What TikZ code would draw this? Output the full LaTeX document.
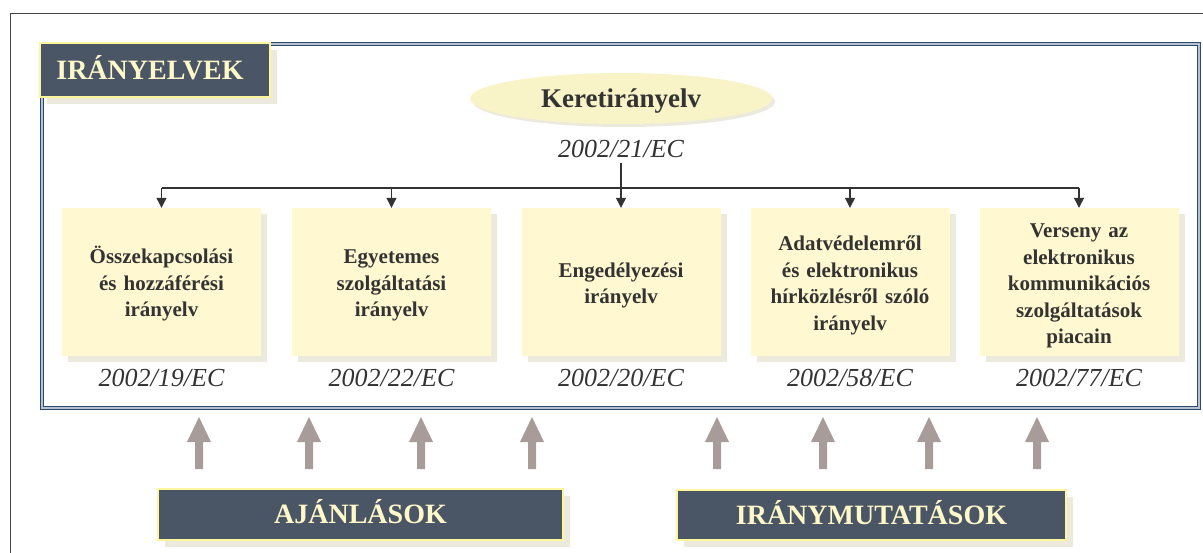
\documentclass[tikz,border=0pt]{standalone}
\usepackage{fontspec}
\setmainfont{Liberation Serif}
\usetikzlibrary{shapes.geometric,arrows.meta,shadows}

\definecolor{framegray}{HTML}{454545}
\definecolor{borderdark}{HTML}{2E4A6B}
\definecolor{borderlight}{HTML}{B4C2D3}
\definecolor{labelc}{HTML}{4A5565}
\definecolor{labely}{HTML}{FFF59C}
\definecolor{labeltext}{HTML}{FFF8C8}
\definecolor{shadowc}{HTML}{ECEADC}
\definecolor{boxc}{HTML}{FFF8D0}
\definecolor{ellc}{HTML}{F9F3C8}
\definecolor{arrowc}{HTML}{A89C9A}
\definecolor{textc}{HTML}{333333}

% fine vertical placement of the text in a directive box
\newcommand{\topgap}{\endgraf\vspace*{-5pt}}

\begin{document}
\begin{tikzpicture}[x=1pt,y=-1pt,
  shadowed/.style={drop shadow={shadow xshift=#1, shadow yshift=-#1, fill=shadowc, opacity=1}},
  dirbox/.style={fill=boxc, minimum width=199pt, minimum height=148pt,
    text width=190pt, align=center, inner sep=0pt, text=textc,
    font=\bfseries\fontsize{21}{26.5}\selectfont, shadowed=6pt,
    execute at begin node=\topgap},
  code/.style={inner sep=0pt, text=textc, font=\itshape\fontsize{26}{30}\selectfont},
  labelbox/.style={fill=labelc, draw=labely, line width=1.6pt, text=labeltext,
    inner sep=0pt, text height=18.5pt, text depth=0pt,
    font=\bfseries\fontsize{28}{32}\selectfont, shadowed=7pt},
  conn/.style={draw=textc, line width=1.2pt},
  tip/.style={-{Triangle[width=10pt,length=10pt]}}
]
\useasboundingbox (0,0) rectangle (1203,552);

% outer page frame, running off the right and bottom edges
\begin{scope}
  \clip (0,0) rectangle (1203,552);
  \draw[framegray, line width=1.3pt] (10.5,570) -- (10.5,13.5) -- (1220,13.5);
\end{scope}

% double border round the directives
\draw[borderlight, line width=4pt] (42,44) rectangle (1199,408);
\draw[borderdark, line width=1.3pt] (40.65,42.65) rectangle (1200.35,409.35);
\draw[borderdark, line width=1.3pt] (43.35,45.35) rectangle (1197.65,406.65);

% section title
\node[labelbox, minimum width=230pt, minimum height=54pt] (title) at (155,70) {IRÁNYELVEK\hspace*{10pt}};

% framework directive
\node[ellipse, fill=ellc, minimum width=302pt, minimum height=51pt, inner sep=0pt,
  shadowed=3pt, text=textc, text height=18.5pt, text depth=0pt,
  font=\bfseries\fontsize{27}{30}\selectfont] (kk) at (621,98.5) {Keretirányelv};
\node[code, anchor=base] (k21) at (621,157) {2002/21/EC};

% specific directives
\node[dirbox] (b1) at (161.5,282) {Összekapcsolási\\és hozzáférési\\irányelv};
\node[dirbox] (b2) at (391.5,282) {Egyetemes\\szolgáltatási\\irányelv};
\node[dirbox] (b3) at (621,282) {Engedélyezési\\irányelv};
\node[dirbox] (b4) at (850,282) {Adatvédelemről\\és elektronikus\\hírközlésről szóló\\irányelv};
\node[dirbox] (b5) at (1079,282) {Verseny az\\elektronikus\\kommunikációs\\szolgáltatások\\piacain};

\node[code, anchor=base] (c1) at (161.5,386) {2002/19/EC};
\node[code, anchor=base] (c2) at (391.5,386) {2002/22/EC};
\node[code, anchor=base] (c3) at (621,386) {2002/20/EC};
\node[code, anchor=base] (c4) at (850,386) {2002/58/EC};
\node[code, anchor=base] (c5) at (1079,386) {2002/77/EC};

% connectors from the framework directive
\coordinate (bus) at (621,188);
\draw[conn] ([yshift=-6pt]k21.south) -- (bus);
\draw[conn] (b1.north |- bus) -- (b5.north |- bus);
\foreach \b in {b1,b2,b3,b4,b5}
  \draw[conn, tip, fill=textc] (\b.north |- bus) -- (\b.north);

% upward block arrows
\foreach \x in {199,309,421,532,717,823,929,1037}
  \fill[arrowc] (\x-4,469) -- (\x-4,442) -- (\x-12,442) -- (\x,417)
                -- (\x+12,442) -- (\x+4,442) -- (\x+4,469) -- cycle;

% recommendations and guidelines
\node[labelbox, minimum width=405pt, minimum height=51pt, shadowed=7pt] (ajl) at (360.5,514.5) {AJÁNLÁSOK};
\node[labelbox, minimum width=389pt, minimum height=50pt, shadowed=7pt] (irm) at (871.5,515) {IRÁNYMUTATÁSOK};
\end{tikzpicture}
\end{document}
